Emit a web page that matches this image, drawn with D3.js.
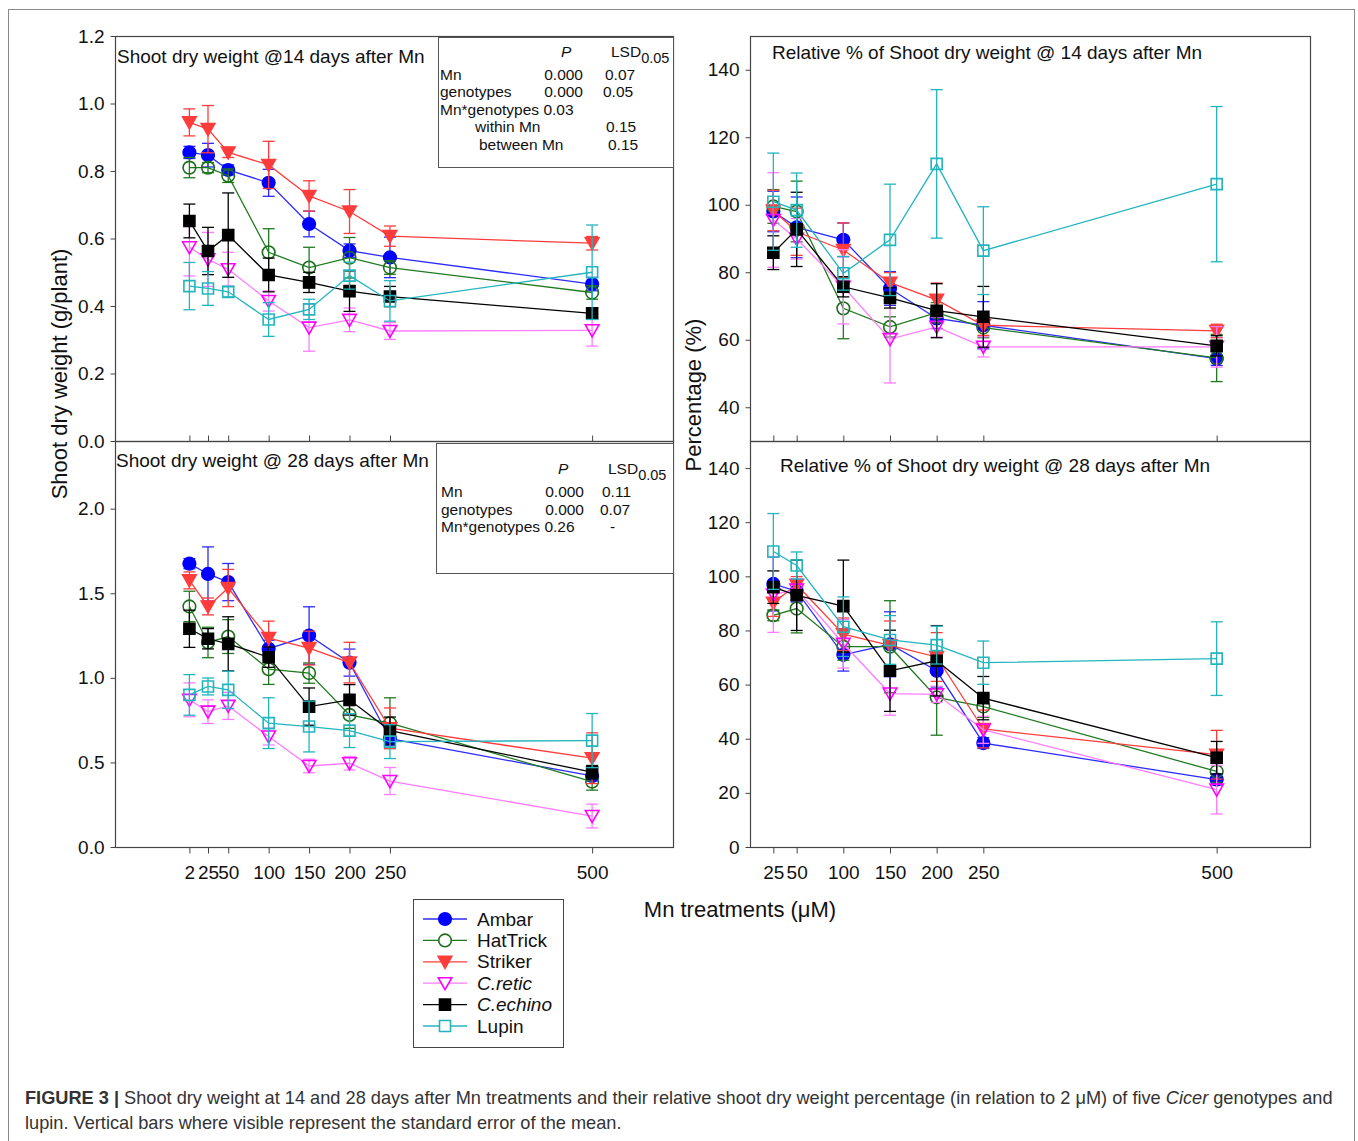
<!DOCTYPE html>
<html>
<head>
<meta charset="utf-8">
<script src="https://cdn.jsdelivr.net/npm/d3@7"></script>
<style>
  body { margin: 0; background: #fff; }
  svg { display: block; font-family: "Liberation Sans", Arial, sans-serif; }
</style>
</head>
<body>
<div id="chart"></div>
<script>
// Mn doses (uM)
var doses = [2, 25, 50, 100, 150, 200, 250, 500];
var relDoses = [25, 50, 100, 150, 200, 250, 500];
var genotypes = ["Ambar", "HatTrick", "Striker", "C.retic", "C.echino", "Lupin"];
var leftTicks14 = [0, 0.2, 0.4, 0.6, 0.8, 1.0, 1.2];
var leftTicks28 = [0, 0.5, 1.0, 1.5, 2.0];
var relTicks14 = [40, 60, 80, 100, 120, 140];
var relTicks28 = [0, 20, 40, 60, 80, 100, 120, 140];

// shoot dry weight 14 days (g/plant), rows = genotypes
var sdw14Mean = [
  [0.855, 0.847, 0.803, 0.765, 0.643, 0.564, 0.544, 0.465],
  [0.81, 0.81, 0.786, 0.559, 0.514, 0.543, 0.514, 0.44],
  [0.944, 0.924, 0.855, 0.818, 0.726, 0.68, 0.607, 0.586],
  [0.574, 0.538, 0.509, 0.415, 0.336, 0.359, 0.326, 0.328],
  [0.652, 0.563, 0.61, 0.492, 0.47, 0.444, 0.428, 0.378],
  [0.459, 0.452, 0.442, 0.36, 0.39, 0.49, 0.415, 0.50]
];
var sdw14Se = [
  [0.018, 0.035, 0.015, 0.04, 0.038, 0.02, 0.06, 0.02],
  [0.03, 0.015, 0.02, 0.07, 0.06, 0.06, 0.02, 0.02],
  [0.04, 0.07, 0.015, 0.07, 0.045, 0.065, 0.03, 0.02],
  [0.085, 0.08, 0.05, 0.03, 0.07, 0.035, 0.025, 0.047],
  [0.05, 0.07, 0.125, 0.05, 0.03, 0.06, 0.03, 0.015],
  [0.07, 0.05, 0.015, 0.05, 0.03, 0.04, 0.06, 0.14]
];

// shoot dry weight 28 days (g/plant)
var sdw28Mean = [
  [1.675, 1.614, 1.566, 1.172, 1.25, 1.09, 0.64, 0.42],
  [1.422, 1.209, 1.244, 1.051, 1.028, 0.781, 0.732, 0.386],
  [1.576, 1.422, 1.531, 1.235, 1.176, 1.09, 0.702, 0.525],
  [0.87, 0.80, 0.834, 0.653, 0.479, 0.495, 0.39, 0.183],
  [1.29, 1.231, 1.201, 1.122, 0.83, 0.87, 0.688, 0.442],
  [0.899, 0.949, 0.929, 0.732, 0.712, 0.688, 0.623, 0.629]
];
var sdw28Se = [
  [0.03, 0.16, 0.11, 0.05, 0.17, 0.08, 0.04, 0.03],
  [0.09, 0.09, 0.1, 0.09, 0.06, 0.08, 0.15, 0.05],
  [0.05, 0.05, 0.11, 0.1, 0.1, 0.12, 0.12, 0.15],
  [0.1, 0.07, 0.08, 0.05, 0.04, 0.04, 0.08, 0.07],
  [0.11, 0.06, 0.16, 0.06, 0.11, 0.09, 0.08, 0.04],
  [0.12, 0.05, 0.11, 0.15, 0.15, 0.1, 0.1, 0.16]
];

// relative % (to 2 uM), 14 days
var rel14Mean = [
  [98, 93.3, 89.6, 75.2, 66.3, 64.3, 54.4],
  [99.5, 98, 69.3, 63.8, 68, 63.6, 54.6],
  [98.3, 92, 86.6, 76.9, 71.8, 64.3, 62.6],
  [95.5, 89.9, 75.7, 60.2, 63.8, 57.9, 57.9],
  [85.8, 92.7, 75.7, 72.4, 68.6, 66.8, 58.2],
  [100.9, 98.4, 79.7, 89.6, 112.1, 86.4, 106.1]
];
var rel14Se = [
  [6, 9, 5, 5, 3, 7, 2],
  [5, 9, 9, 3, 3, 3, 7],
  [6, 7, 8, 3, 5, 3, 2],
  [14, 6, 11, 13, 3, 3, 6],
  [5, 11, 3, 3, 8, 9, 3],
  [14.4, 11, 5, 16.5, 22, 13, 23]
];

// relative % (to 2 uM), 28 days
var rel28Mean = [
  [97.2, 94.5, 71, 74.9, 65.1, 38.4, 24.9],
  [85.6, 88.1, 74, 74, 55.3, 51.9, 27.9],
  [90.2, 96.9, 78.6, 74.5, 70.2, 43.6, 34.1],
  [93.3, 95.1, 75.1, 56.7, 56.4, 43.3, 21.2],
  [96, 93, 89, 65.1, 68.8, 55, 33],
  [109.2, 104, 81.4, 76.5, 74.6, 68.1, 69.6]
];
var rel28Se = [
  [10, 4, 6, 12, 6, 2, 2],
  [2, 9, 5, 17, 14, 4, 4],
  [5, 3, 6, 9, 9, 7, 9],
  [14, 4, 9, 8, 3, 5, 9],
  [6, 13, 17, 15, 13, 8, 6],
  [14, 5, 11, 9, 7, 8, 13.6]
];

// series styles
var lineColors = ["#2b2bff", "#1f7a1f", "#ff3c3c", "#ff7cff", "#000000", "#22b5be"];
var markColors = ["#0000ff", "#1f6e1f", "#ff3c3c", "#ff00ff", "#000000", "#22b5be"];
var markShapes = ["circle", "circle", "tri", "tri", "square", "square"];
var markFilled = [true, false, true, false, true, false];

var W = 1358, H = 1141;
var svg = d3.select("#chart").append("svg")
    .attr("width", W)
    .attr("height", H);

// outer frame
svg.append("rect")
    .attr("x", 8.5).attr("y", 9.5)
    .attr("width", 1346).attr("height", 1140)
    .attr("fill", "none")
    .attr("stroke", "#8a8a8a");

function markPath(shape) {
  if (shape == "circle") return d3.symbol().type(d3.symbolCircle).size(Math.PI * 6.3 * 6.3)();
  if (shape == "square") return "M-5.5,-5.5H5.5V5.5H-5.5Z";
  return "M-6.8,-5.5L6.8,-5.5L0,6.5Z";
}

function drawPanel(cfg) {
  var x = d3.scaleLinear().domain(cfg.xDomain).range([cfg.x0, cfg.x1]);
  var y = d3.scaleLinear().domain(cfg.yDomain).range([cfg.y1, cfg.y0]);
  var g = svg.append("g");

  // frame
  g.append("rect")
      .attr("x", cfg.x0 + 0.5).attr("y", cfg.y0 + 0.5)
      .attr("width", cfg.x1 - cfg.x0).attr("height", cfg.y1 - cfg.y0)
      .attr("fill", "none")
      .attr("stroke", "#444")
      .attr("stroke-width", 1.2);

  // y axis
  var yAxis = g.append("g")
      .attr("transform", "translate(" + (cfg.x0 + 0.5) + ",0)")
      .call(d3.axisLeft(y).tickValues(cfg.yTicks).tickSize(5).tickPadding(6).tickFormat(cfg.yFormat));
  yAxis.select(".domain").remove();
  yAxis.selectAll("line").attr("stroke", "#444");
  yAxis.selectAll("text").attr("font-size", 19).attr("fill", "#111")
      .attr("font-family", "Liberation Sans, Arial, sans-serif");

  // x axis
  var xAx = cfg.showX ? d3.axisBottom(x).tickSize(6).tickPadding(12)
                      : d3.axisBottom(x).tickSize(-6);
  xAx.tickValues(cfg.xVals).tickFormat(function(d) { return cfg.showX ? String(d) : ""; });
  var xAxis = g.append("g")
      .attr("transform", "translate(0," + (cfg.y1 + 0.5) + ")")
      .call(xAx);
  xAxis.select(".domain").remove();
  xAxis.selectAll("line").attr("stroke", "#444");
  xAxis.selectAll("text").attr("font-size", 19).attr("fill", "#111")
      .attr("font-family", "Liberation Sans, Arial, sans-serif");

  // title
  g.append("text")
      .attr("x", cfg.titleX).attr("y", cfg.titleY)
      .attr("font-size", cfg.titleSize)
      .attr("fill", "#111")
      .text(cfg.title);

  // series
  genotypes.forEach(function(name, s) {
    var pts = cfg.xVals.map(function(d, i) {
      return { x: d, m: cfg.mean[s][i], e: cfg.se[s][i] };
    });
    var sg = g.append("g").attr("class", "series");

    // error bars
    var eb = sg.selectAll(".eb").data(pts).enter().append("g").attr("class", "eb");
    eb.append("line")
        .attr("x1", function(d) { return x(d.x); })
        .attr("x2", function(d) { return x(d.x); })
        .attr("y1", function(d) { return y(d.m - d.e); })
        .attr("y2", function(d) { return y(d.m + d.e); });
    eb.append("line")
        .attr("x1", function(d) { return x(d.x) - 6; })
        .attr("x2", function(d) { return x(d.x) + 6; })
        .attr("y1", function(d) { return y(d.m + d.e); })
        .attr("y2", function(d) { return y(d.m + d.e); });
    eb.append("line")
        .attr("x1", function(d) { return x(d.x) - 6; })
        .attr("x2", function(d) { return x(d.x) + 6; })
        .attr("y1", function(d) { return y(d.m - d.e); })
        .attr("y2", function(d) { return y(d.m - d.e); });
    eb.selectAll("line").attr("stroke", lineColors[s]).attr("stroke-width", 1.3);

    // line
    sg.append("path")
        .datum(pts)
        .attr("fill", "none")
        .attr("stroke", lineColors[s])
        .attr("stroke-width", 1.3)
        .attr("d", d3.line().x(function(d) { return x(d.x); }).y(function(d) { return y(d.m); }));

    // markers
    sg.selectAll(".mk").data(pts).enter().append("path")
        .attr("class", "mk")
        .attr("transform", function(d) { return "translate(" + x(d.x) + "," + y(d.m) + ")"; })
        .attr("d", markPath(markShapes[s]))
        .attr("fill", markFilled[s] ? markColors[s] : "#fff")
        .attr("fill-opacity", markFilled[s] ? 1 : 0)
        .attr("stroke", markColors[s])
        .attr("stroke-width", 1.6);
  });

  // stats box
  if (cfg.stats) {
    var st = cfg.stats;
    var sb = g.append("g");
    sb.append("rect")
        .attr("x", st.x + 0.5).attr("y", st.y + 0.5)
        .attr("width", st.w).attr("height", st.h)
        .attr("fill", "#fff")
        .attr("stroke", "#555");
    var hdr = sb.append("g").attr("font-size", 15.5).attr("fill", "#111");
    hdr.append("text").attr("x", st.pX).attr("y", st.hY).attr("font-style", "italic").text("P");
    var lsd = hdr.append("text").attr("x", st.lsdX).attr("y", st.hY);
    lsd.append("tspan").text("LSD");
    lsd.append("tspan").attr("dy", 6).attr("font-size", 14.5).text("0.05");
    st.rows.forEach(function(r, i) {
      var yy = st.rowY + i * st.rowH;
      sb.append("text").attr("x", r[0]).attr("y", yy).attr("font-size", 15.5).attr("fill", "#111")
          .text(r[1]);
      if (r[2]) sb.append("text").attr("x", st.pEnd).attr("y", yy).attr("font-size", 15.5)
          .attr("fill", "#111").attr("text-anchor", "end").text(r[2]);
      if (r[3]) sb.append("text").attr("x", r[4]).attr("y", yy).attr("font-size", 15.5)
          .attr("fill", "#111").text(r[3]);
    });
  }
}

var fmt1 = function(d) { return d3.format(".1f")(d); };
var fmt0 = function(d) { return String(d); };

drawPanel({
  x0: 115, x1: 673, y0: 36, y1: 441,
  xDomain: [-90, 600], yDomain: [0, 1.2],
  xVals: doses, yTicks: leftTicks14, yFormat: fmt1, showX: false,
  mean: sdw14Mean, se: sdw14Se,
  title: "Shoot dry weight @14 days after Mn", titleX: 117, titleY: 63, titleSize: 19,
  stats: {
    x: 438, y: 37, w: 235, h: 130, pX: 561, lsdX: 611, hY: 57,
    pEnd: 583, rowY: 80, rowH: 17.4,
    rows: [
      [440, "Mn", "0.000", "0.07", 605],
      [440, "genotypes", "0.000", "0.05", 603],
      [440, "Mn*genotypes 0.03", null, null],
      [475, "within Mn", null, "0.15", 606],
      [479, "between Mn", null, "0.15", 608]
    ]
  }
});

drawPanel({
  x0: 115, x1: 673, y0: 441, y1: 847,
  xDomain: [-90, 600], yDomain: [0, 2.4],
  xVals: doses, yTicks: leftTicks28, yFormat: fmt1, showX: true,
  mean: sdw28Mean, se: sdw28Se,
  title: "Shoot dry weight @ 28 days after Mn", titleX: 116, titleY: 467, titleSize: 19,
  stats: {
    x: 436, y: 443, w: 237, h: 130, pX: 558, lsdX: 608, hY: 474,
    pEnd: 584, rowY: 497, rowH: 17.6,
    rows: [
      [441, "Mn", "0.000", "0.11", 602],
      [441, "genotypes", "0.000", "0.07", 600],
      [441, "Mn*genotypes 0.26", null, "-", 610]
    ]
  }
});

drawPanel({
  x0: 750, x1: 1310, y0: 36, y1: 441,
  xDomain: [0, 600], yDomain: [30, 150],
  xVals: relDoses, yTicks: relTicks14, yFormat: fmt0, showX: false,
  mean: rel14Mean, se: rel14Se,
  title: "Relative % of Shoot dry weight @ 14 days after Mn", titleX: 772, titleY: 59, titleSize: 19
});

drawPanel({
  x0: 750, x1: 1310, y0: 441, y1: 847,
  xDomain: [0, 600], yDomain: [0, 150],
  xVals: relDoses, yTicks: relTicks28, yFormat: fmt0, showX: true,
  mean: rel28Mean, se: rel28Se,
  title: "Relative % of Shoot dry weight @ 28 days after Mn", titleX: 780, titleY: 472, titleSize: 19
});

// axis titles
svg.append("text")
    .attr("transform", "translate(67,374) rotate(-90)")
    .attr("text-anchor", "middle")
    .attr("font-size", 22).attr("fill", "#111")
    .text("Shoot dry weight (g/plant)");
svg.append("text")
    .attr("transform", "translate(701,395) rotate(-90)")
    .attr("text-anchor", "middle")
    .attr("font-size", 22).attr("fill", "#111")
    .text("Percentage (%)");
svg.append("text")
    .attr("x", 740).attr("y", 917)
    .attr("text-anchor", "middle")
    .attr("font-size", 22).attr("fill", "#111")
    .text("Mn treatments (\u03bcM)");

// legend
var lg = svg.append("g");
lg.append("rect")
    .attr("x", 413.5).attr("y", 899.5)
    .attr("width", 150).attr("height", 148)
    .attr("fill", "#fff").attr("stroke", "#444");
genotypes.forEach(function(name, s) {
  var yy = 919 + s * 21.4;
  lg.append("line")
      .attr("x1", 423).attr("x2", 467).attr("y1", yy).attr("y2", yy)
      .attr("stroke", lineColors[s]).attr("stroke-width", 1.3);
  lg.append("path")
      .attr("transform", "translate(445," + yy + ")")
      .attr("d", markPath(markShapes[s]))
      .attr("fill", markFilled[s] ? markColors[s] : "#fff")
      .attr("stroke", markColors[s])
      .attr("stroke-width", 1.6);
  lg.append("text")
      .attr("x", 477).attr("y", yy + 6.5)
      .attr("font-size", 19).attr("fill", "#111")
      .attr("font-style", name.indexOf("C.") == 0 ? "italic" : "normal")
      .text(name);
});

// caption
var cap = svg.append("g").attr("font-size", 18.2).attr("fill", "#333");
var c1 = cap.append("text").attr("x", 25).attr("y", 1104);
c1.append("tspan").attr("font-weight", "bold").text("FIGURE 3 |");
c1.append("tspan").text(" Shoot dry weight at 14 and 28 days after Mn treatments and their relative shoot dry weight percentage (in relation to 2 \u03bcM) of five ");
c1.append("tspan").attr("font-style", "italic").text("Cicer");
c1.append("tspan").text(" genotypes and");
cap.append("text").attr("x", 25).attr("y", 1129)
    .text("lupin. Vertical bars where visible represent the standard error of the mean.");
</script>
</body>
</html>
